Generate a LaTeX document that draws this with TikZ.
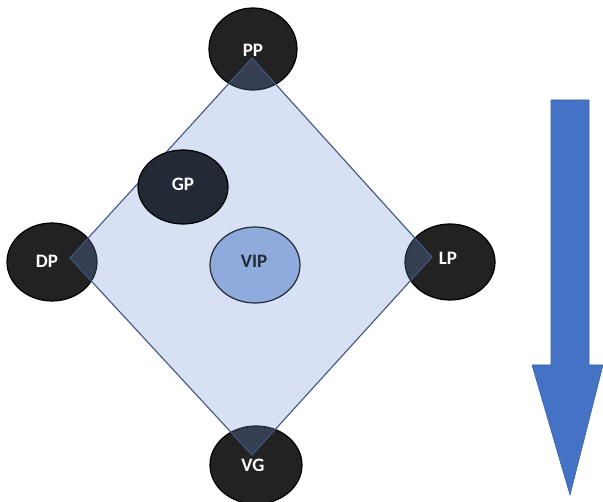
\documentclass[tikz,border=0pt]{standalone}
\usepackage{fontspec}
\setmainfont{Carlito}
\usetikzlibrary{shapes.geometric}
\definecolor{darkell}{HTML}{222222}
\definecolor{gpfill}{HTML}{222A35}
\definecolor{vipfill}{HTML}{8FAADC}
\definecolor{diafill}{HTML}{6E8CD2}
\definecolor{diaedge}{HTML}{3D5680}
\definecolor{arrowfill}{HTML}{4472C4}
\definecolor{arrowedge}{HTML}{3A62A8}
\tikzset{
  ell/.style={ellipse, draw=black, line width=1.2pt, fill=darkell, inner sep=0pt},
  lbl/.style={text=white, font=\fontsize{19}{22}\selectfont\bfseries, inner sep=0pt},
  diamondpath/.style={fill=diafill, fill opacity=0.27, draw=diaedge, draw opacity=1, line width=1.1pt},
}
\begin{document}
\begin{tikzpicture}[x=1pt,y=-1pt]
\useasboundingbox (0,0) rectangle (603,502);
% outer ellipses
\node[ell, minimum width=88, minimum height=82] (pp) at (253,49) {};
\node[ell, minimum width=90, minimum height=78] (dp) at (52,262) {};
\node[ell, minimum width=90, minimum height=76] (lp) at (450,262) {};
\node[ell, minimum width=92, minimum height=78] (vg) at (256,465) {};
% diamond
\coordinate (top) at (252,58);
\coordinate (left) at (70,258);
\coordinate (right) at (432,257);
\coordinate (bottom) at (252,455);
\path[diamondpath] (top) -- (right) -- (bottom) -- (left) -- cycle;
% inner ellipses
\node[ell, fill=gpfill, minimum width=90, minimum height=74] (gp) at (183,187) {};
\node[ell, fill=vipfill, draw=gpfill, minimum width=90, minimum height=76] (vip) at (255,265) {};
% labels
\node[lbl] at (253,50) {PP};
\node[lbl] at (47,261) {DP};
\node[lbl] at (448,258) {LP};
\node[lbl] at (253,465) {VG};
\node[lbl] at (183,184) {GP};
\node[lbl, text=gpfill] at (254,261) {VIP};
% arrow
\coordinate (a1) at (551,100);
\coordinate (a2) at (589,100);
\coordinate (a3) at (589,365);
\coordinate (a4) at (603,365);
\coordinate (a5) at (570,495);
\coordinate (a6) at (532,365);
\coordinate (a7) at (551,365);
\path[fill=arrowfill, draw=arrowedge, line width=0.6pt] (a1) -- (a2) -- (a3) -- (a4) -- (a5) -- (a6) -- (a7) -- cycle;
\end{tikzpicture}
\end{document}
